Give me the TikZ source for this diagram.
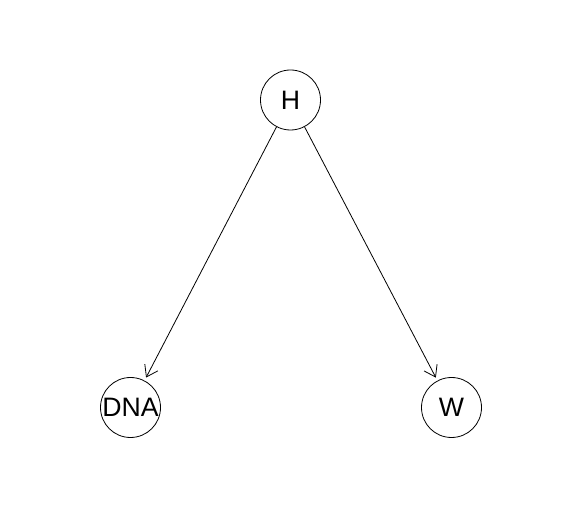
\documentclass[tikz,border=0pt]{standalone}
\usepackage{fontspec}
\setmainfont{Liberation Sans}
\usetikzlibrary{arrows.meta}
\begin{document}
\begin{tikzpicture}[x=0.75pt,y=-0.75pt,
  vert/.style={circle,draw,line width=0.6pt,minimum size=45pt,inner sep=0pt,font=\fontsize{20}{22}\selectfont},
  edge/.style={line width=0.6pt,shorten >=2.5pt,-{Straight Barb[length=8pt,width=11pt,line width=0.6pt]}}]
\useasboundingbox (0,0) rectangle (582,509);
\node[vert] (H) at (290.5,100) {H};
\node[vert] (DNA) at (130.5,407.5) {DNA};
\node[vert] (W) at (451.5,407.5) {W};
\draw[edge] (H) -- (DNA);
\draw[edge] (H) -- (W);
\end{tikzpicture}
\end{document}
